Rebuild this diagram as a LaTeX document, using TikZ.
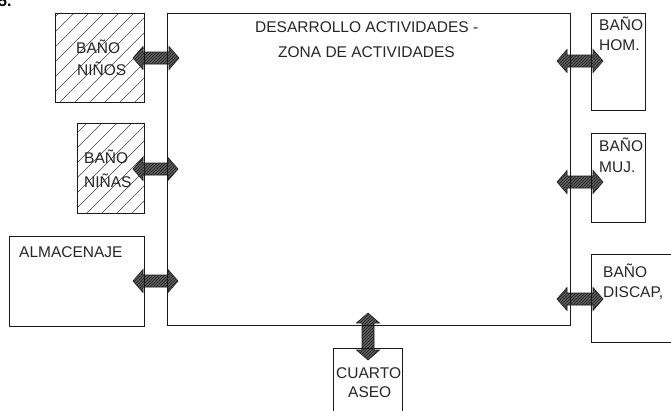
\documentclass[tikz,border=0pt]{standalone}
\usepackage{fontspec}
\setmainfont{Liberation Sans}
\usetikzlibrary{patterns,calc}
\begin{document}
\begin{tikzpicture}[x=1pt,y=-1pt,
  box/.style={draw=black!90, line width=0.8pt, anchor=north west, inner sep=0pt},
  lbl/.style={anchor=base west, inner sep=0pt, font=\fontsize{15.5}{15.5}\selectfont, text=black!85},
  hatch/.style={line width=0.5pt, draw=black!75},
  arrowbase/.style={draw=black!90, line width=0.6pt, preaction={fill=black!62}, pattern=north east lines, pattern color=black!90},
  harrow/.style={arrowbase,
     to path={let \p1=(\tikztostart), \p2=(\tikztotarget) in
       (\x1,\y1) -- (\x1+10pt,\y1+11.5pt) -- (\x1+10pt,\y1+6pt) -- (\x2-10pt,\y1+6pt) -- (\x2-10pt,\y1+11.5pt) -- (\x2,\y1)
       -- (\x2-10pt,\y1-11.5pt) -- (\x2-10pt,\y1-6pt) -- (\x1+10pt,\y1-6pt) -- (\x1+10pt,\y1-11.5pt) -- cycle}},
  varrow/.style={arrowbase,
     to path={let \p1=(\tikztostart), \p2=(\tikztotarget) in
       (\x1,\y1) -- (\x1+11.5pt,\y1-10pt) -- (\x1+6pt,\y1-10pt) -- (\x1+6pt,\y2+10pt) -- (\x1+11.5pt,\y2+10pt) -- (\x1,\y2)
       -- (\x1-11.5pt,\y2+10pt) -- (\x1-6pt,\y2+10pt) -- (\x1-6pt,\y1-10pt) -- (\x1-11.5pt,\y1-10pt) -- cycle}}
]
\useasboundingbox (0,0) rectangle (671,410);

% fragment of cut-off text at top left
\node[anchor=base west, inner sep=0pt, font=\bfseries\fontsize{16}{16}\selectfont] (frag) at (-2,6) {5.};

% boxes (invisible first pass for coordinates)
\node[box, draw=none, minimum width=403pt, minimum height=312pt] (zona) at (167,13) {};
\node[box, draw=none, minimum width=89pt, minimum height=89pt] (ninos) at (55,13) {};
\node[box, draw=none, minimum width=67pt, minimum height=90pt] (ninas) at (77,123) {};
\node[box, draw=none, minimum width=135pt, minimum height=90pt] (alm) at (9,236) {};
\node[box, draw=none, minimum width=54pt, minimum height=97pt] (hom) at (591,13) {};
\node[box, draw=none, minimum width=54pt, minimum height=89pt] (muj) at (591,133) {};
\node[box, draw=none, minimum width=100pt, minimum height=88pt] (disc) at (591,254) {};
\node[box, draw=none, minimum width=69pt, minimum height=80pt] (cuarto) at (333,348) {};

% hatching
\begin{scope}
  \clip (ninos.north west) rectangle (ninos.south east);
  \foreach \k in {0,...,13} \draw[hatch] (-45+\k*15,102) -- ++(110,-110);
\end{scope}
\begin{scope}
  \clip (ninas.north west) rectangle (ninas.south east);
  \foreach \k in {0,...,11} \draw[hatch] (-18+\k*15,213) -- ++(110,-110);
\end{scope}

% arrow end points
\coordinate (nA) at (133,58);  \coordinate (nB) at (179,58);
\coordinate (naA) at (133,169); \coordinate (naB) at (178,169);
\coordinate (alA) at (133,281); \coordinate (alB) at (178,281);
\coordinate (hoA) at (557,61);  \coordinate (hoB) at (603,61);
\coordinate (muA) at (557,182); \coordinate (muB) at (603,182);
\coordinate (diA) at (557,299); \coordinate (diB) at (603,299);
\coordinate (cuA) at (368,313); \coordinate (cuB) at (368,360);

\path[harrow] (nA) to (nB);
\path[harrow] (naA) to (naB);
\path[harrow] (alA) to (alB);
\path[harrow] (hoA) to (hoB);
\path[harrow] (muA) to (muB);
\path[harrow] (diA) to (diB);
\path[varrow] (cuA) to (cuB);

% box outlines
\foreach \n in {zona,ninos,ninas,alm,hom,muj,disc,cuarto}
  \draw[black!90, line width=0.8pt] (\n.north west) rectangle (\n.south east);

% labels
\node[lbl] (t1) at (255,32) {DESARROLLO ACTIVIDADES -};
\node[lbl] (t2) at (278,57) {ZONA DE ACTIVIDADES};
\node[lbl] (ninos1) at (76,53) {BAÑO};
\node[lbl] (ninos2) at (77,75) {NIÑOS};
\node[lbl] (ninas1) at (84,163) {BAÑO};
\node[lbl] (ninas2) at (84,187) {NIÑAS};
\node[lbl] (almt) at (19,257) {ALMACENAJE};
\node[lbl] (hom1) at (599,30) {BAÑO};
\node[lbl] (hom2) at (599,50) {HOM.};
\node[lbl] (muj1) at (599,151) {BAÑO};
\node[lbl] (muj2) at (599,172) {MUJ.};
\node[lbl] (disc1) at (603,277) {BAÑO};
\node[lbl] (disc2) at (603,297) {DISCAP,};
\node[lbl] (cu1) at (336,378) {CUARTO};
\node[lbl] (cu2) at (348,397) {ASEO};
\end{tikzpicture}
\end{document}
